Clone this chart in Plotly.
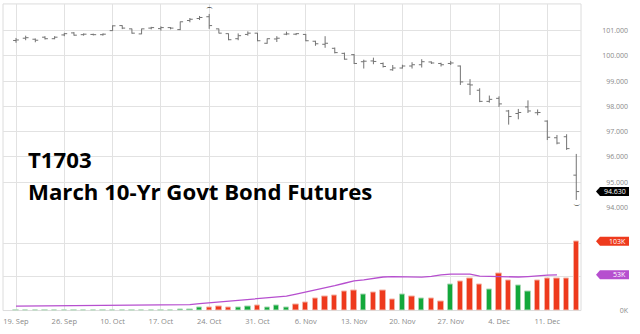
import plotly.graph_objects as go

W, H = 640, 334

# ---------------- data ----------------
week_labels = ["19. Sep", "26. Sep", "10. Oct", "17. Oct", "24. Oct", "31. Oct",
               "6. Nov", "13. Nov", "20. Nov", "27. Nov", "4. Dec", "11. Dec"]
days_per_week = 5

open_ = [100.61, 100.70, 100.66, 100.74, 100.68, 100.83, 100.91, 100.84, 100.85, 100.84,
         101.00, 101.20, 101.07, 100.87, 101.10, 101.08, 101.12, 101.04, 101.40, 101.48,
         101.55, 101.07, 100.88, 100.68, 100.85, 100.90, 100.50, 100.67, 100.86, 100.86,
         100.85, 100.58, 100.46, 100.30, 100.10, 100.05, 99.77, 99.80, 99.70, 99.45,
         99.52, 99.60, 99.65, 99.76, 99.70, 99.70, 99.60, 98.88, 98.64, 98.20,
         98.32, 97.82, 97.72, 97.98, 97.75, 97.42, 96.76, 96.80, 95.28]
high = [100.71, 100.80, 100.69, 100.78, 100.78, 100.91, 100.94, 100.89, 100.88, 100.89,
        101.21, 101.21, 101.08, 101.08, 101.15, 101.17, 101.14, 101.36, 101.50, 101.58,
        101.66, 101.08, 100.89, 100.89, 100.97, 100.91, 100.69, 100.78, 100.96, 100.90,
        100.87, 100.60, 100.78, 100.33, 100.13, 100.07, 99.85, 99.93, 99.74, 99.64,
        99.65, 99.75, 99.87, 99.78, 99.73, 99.80, 99.62, 99.08, 98.72, 98.43,
        98.40, 97.86, 97.90, 98.24, 97.88, 97.45, 96.87, 96.90, 96.12]
low = [100.52, 100.62, 100.54, 100.65, 100.66, 100.78, 100.80, 100.80, 100.81, 100.80,
       100.99, 101.06, 100.88, 100.86, 101.05, 101.00, 101.05, 101.02, 101.33, 101.42,
       101.07, 100.89, 100.62, 100.62, 100.80, 100.58, 100.48, 100.55, 100.82, 100.82,
       100.58, 100.40, 100.32, 100.10, 99.85, 99.68, 99.50, 99.67, 99.54, 99.41,
       99.50, 99.50, 99.54, 99.68, 99.58, 99.64, 98.85, 98.45, 98.17, 98.15,
       97.98, 97.28, 97.49, 97.74, 97.65, 96.67, 96.50, 96.28, 94.30]
close = [100.63, 100.72, 100.62, 100.68, 100.74, 100.88, 100.82, 100.86, 100.84, 100.86,
         101.19, 101.10, 100.90, 101.07, 101.12, 101.12, 101.10, 101.35, 101.45, 101.52,
         101.20, 100.90, 100.64, 100.80, 100.90, 100.60, 100.68, 100.70, 100.87, 100.88,
         100.60, 100.48, 100.50, 100.13, 99.87, 99.70, 99.79, 99.78, 99.58, 99.52,
         99.60, 99.65, 99.77, 99.72, 99.65, 99.72, 98.97, 98.85, 98.20, 98.28,
         98.10, 97.60, 97.76, 97.82, 97.76, 96.78, 96.55, 96.33, 94.63]

volume_k = [0, 0.3, 0, 0.5, 0.6, 0.6, 0.3, 0, 0, 0.4,
            0.6, 0.5, 0.6, 0.5, 0.5, 0.6, 0.7, 2, 1.0, 4,
            5, 6, 5, 5, 6, 7, 5, 7, 4, 9,
            12, 18, 20.5, 23, 28, 30, 24, 27, 30, 16.5,
            24, 21.5, 17.5, 18.5, 13, 38.5, 42.5, 47, 39, 31,
            55, 45, 37.5, 29, 44, 48, 47, 47, 103]
vol_up = [1, 1, 1, 1, 1, 1, 1, 1, 1, 1,
          1, 1, 1, 1, 1, 1, 1, 1, 1, 1,
          0, 0, 0, 1, 1, 0, 1, 1, 1, 0,
          0, 0, 0, 0, 0, 0, 1, 0, 0, 0,
          1, 0, 1, 0, 0, 1, 0, 0, 0, 1,
          0, 0, 1, 1, 0, 0, 0, 0, 0]
vol_avg_k = [6.5, 6.6, 6.7, 6.8, 6.9, 7.0, 7.1, 7.2, 7.3, 7.5,
             7.6, 7.8, 7.9, 8.0, 8.2, 8.3, 8.5, 8.7, 8.9, 10.3,
             11.5, 13.0, 14.2, 15.5, 17.2, 18.3, 19.6, 20.5, 21.3, 24.5,
             27.5, 30.5, 33.2, 37.0, 40.5, 44.0, 45.4, 47.5, 49.8, 50.2,
             50.0, 49.4, 49.6, 50.6, 53.0, 54.2, 54.2, 54.0, 51.2, 50.8,
             50.7, 50.2, 49.8, 50.5, 51.8, 52.5, 53.0]

# ---------------- styling ----------------
GRID = "#e2e2e2"
BAR_GRAY = "#737373"
RED = "#ee3a1d"
GREEN = "#13a83b"
PURPLE = "#b64fcf"
LABEL = "#8a8a8a"

x = list(range(len(close)))
tickvals = [i * days_per_week for i in range(len(week_labels))]

x_left, x_right = 3, 581
px_per_day = 9.66
x_range = [(x_left - 16) / px_per_day, (x_right - 16) / px_per_day]
x_dom = [x_left / W, x_right / W]
price_dom = [1 - 210 / H, 1 - 4 / H]
vol_dom = [1 - 314.3 / H, 1 - 210 / H]
axis_pos = 628 / W

fig = go.Figure()
fig.add_trace(go.Ohlc(
    x=x, open=open_, high=high, low=low, close=close,
    increasing_line_color=BAR_GRAY, decreasing_line_color=BAR_GRAY,
    line_width=1, tickwidth=0.3, xaxis="x", yaxis="y", showlegend=False,
    hoverinfo="skip"))

fig.add_trace(go.Bar(
    x=x, y=volume_k, width=0.55,
    marker_color=[GREEN if u else RED for u in vol_up],
    marker_line_color=["#a9d9b5" if u else "#f4b3a6" for u in vol_up],
    marker_line_width=1,
    xaxis="x2", yaxis="y2", showlegend=False, hoverinfo="skip"))

fig.add_trace(go.Scatter(
    x=x[:len(vol_avg_k)], y=vol_avg_k, mode="lines",
    line=dict(color=PURPLE, width=1.3),
    xaxis="x2", yaxis="y2", showlegend=False, hoverinfo="skip"))

common_x = dict(domain=x_dom, range=x_range, tickmode="array", tickvals=tickvals,
                showgrid=True, gridcolor=GRID, gridwidth=1, zeroline=False,
                showline=False, ticks="", fixedrange=True)
common_y = dict(anchor="free", position=axis_pos, side="left", showgrid=True,
                gridcolor=GRID, gridwidth=1, zeroline=False, showline=False,
                ticks="", tickfont=dict(family="Open Sans", size=7, color=LABEL),
                fixedrange=True)

fig.update_layout(
    width=W, height=H, autosize=False,
    margin=dict(l=0, r=0, t=0, b=0),
    paper_bgcolor="white", plot_bgcolor="white",
    xaxis=dict(**common_x, anchor="y", showticklabels=False,
               rangeslider=dict(visible=False)),
    xaxis2=dict(**common_x, anchor="y2", matches="x", ticktext=week_labels,
                ticklabelstandoff=5,
                tickfont=dict(family="Open Sans", size=7.5, color=LABEL)),
    yaxis=dict(**common_y, domain=price_dom, range=[94, 102.056],
               tickvals=list(range(94, 102)), tickformat=".3f"),
    yaxis2=dict(**common_y, domain=vol_dom, range=[0, 153],
                tickvals=[0, 50, 100], ticktext=["0K", "", ""]),
    bargap=0,
)

# frame
fig.add_shape(type="rect", xref="paper", yref="paper",
              x0=x_dom[0], x1=x_dom[1], y0=vol_dom[0], y1=price_dom[1],
              line=dict(color="#dcdcdc", width=1), layer="below")


def badge(yref, yval, color, text):
    fig.add_shape(type="path", xref="paper", yref=yref,
                  xsizemode="pixel", ysizemode="pixel",
                  xanchor=629 / W, yanchor=yval,
                  path="M 0,-4.5 L -29,-4.5 L -33,0 L -29,4.5 L 0,4.5 Z",
                  fillcolor=color, line=dict(width=0), layer="above")
    fig.add_annotation(x=628 / W, xref="paper", xanchor="right",
                       y=yval, yref=yref, yanchor="middle", text=text,
                       showarrow=False,
                       font=dict(family="Open Sans", size=7, color="white"))


badge("y", close[-1], "#000000", f"{close[-1]:.3f}")
badge("y2", volume_k[-1], RED, f"{volume_k[-1]:.0f}K")
badge("y2", vol_avg_k[-1], PURPLE, f"{vol_avg_k[-1]:.0f}K")

# high / low markers
i_hi = max(range(len(high)), key=lambda i: high[i])
i_lo = min(range(len(low)), key=lambda i: low[i])
fig.add_annotation(x=i_hi, y=high[i_hi], xref="x", yref="y", yanchor="bottom",
                   text="⌒", showarrow=False, yshift=-3,
                   font=dict(family="DejaVu Sans", size=7, color="black"))
fig.add_annotation(x=i_lo, y=low[i_lo], xref="x", yref="y", yanchor="top",
                   text="‿", showarrow=False, yshift=4,
                   font=dict(family="DejaVu Sans", size=7, color="black"))

# titles
fig.add_annotation(x=26 / W, xref="paper", xanchor="left", y=1 - 161.5 / H,
                   yref="paper", yanchor="middle", text="<b>T1703</b>",
                   showarrow=False, font=dict(family="Open Sans", size=22.2, color="black"))
fig.add_annotation(x=26 / W, xref="paper", xanchor="left", y=1 - 193.5 / H,
                   yref="paper", yanchor="middle",
                   text="<b>March 10-Yr Govt Bond Futures</b>",
                   showarrow=False, font=dict(family="Open Sans", size=22.2, color="black"))

fig.write_html("out.html")
